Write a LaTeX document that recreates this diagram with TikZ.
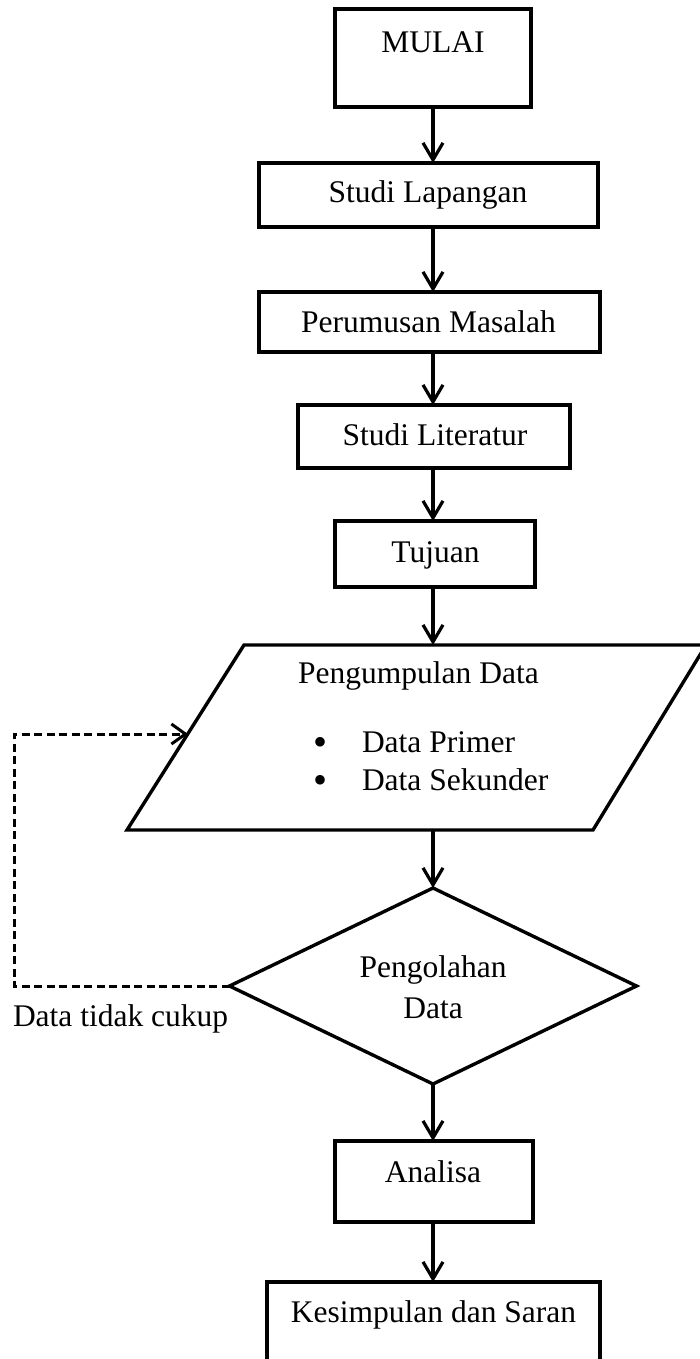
\documentclass[tikz,border=0pt]{standalone}
\usepackage{fontspec}
\setmainfont{Liberation Serif}
\usetikzlibrary{arrows.meta,shapes.geometric}
\begin{document}
\begin{tikzpicture}[x=1pt,y=-1pt,
  every node/.style={font=\fontsize{31.5}{38}\selectfont, inner sep=0pt, outer sep=0pt},
  box/.style={draw, rectangle, line width=3.4pt},
  txt/.style={anchor=base},
  arr/.style={-{Straight Barb[length=17pt,width=20pt]}, line width=3.2pt},
  dasharr/.style={-{Straight Barb[length=14pt,width=20pt]}, line width=3pt, dash pattern=on 8pt off 4.5pt}]
\useasboundingbox (0,0) rectangle (699,1359);

% process boxes
\node[box, minimum width=196pt, minimum height=98pt] (mulai) at (433,58) {};
\node[box, minimum width=339pt, minimum height=64pt] (stlap) at (428.5,195) {};
\node[box, minimum width=341pt, minimum height=60pt] (perum) at (429.5,322) {};
\node[box, minimum width=272pt, minimum height=63pt] (stlit) at (434,436.5) {};
\node[box, minimum width=200pt, minimum height=66pt] (tujuan) at (435,554) {};
\node[box, minimum width=198pt, minimum height=81pt] (analisa) at (434,1181.5) {};
\node[box, minimum width=333pt, minimum height=98pt] (kesim) at (433.5,1331) {};

% box texts
\node[txt] (tmulai) at (433,53) {MULAI};
\node[txt] (tstlap) at (428,203) {Studi Lapangan};
\node[txt] (tperum) at (428.5,332) {Perumusan Masalah};
\node[txt] (tstlit) at (435,445) {Studi Literatur};
\node[txt] (ttujuan) at (435.5,562) {Tujuan};
\node[txt] (tanalisa) at (433,1182) {Analisa};
\node[txt] (tkesim) at (433.5,1322) {Kesimpulan dan Saran};

% data input (parallelogram)
\draw[line width=3.4pt, line join=miter] (244,645) -- (706,645) -- (593,830) -- (127,830) -- cycle;
\coordinate (pdtop) at (433,645);
\coordinate (pdbot) at (433,830);
\coordinate (pdin) at (188,734);
\node[txt] (tpd) at (418.5,683) {Pengumpulan Data};
\node[txt, font=\fontsize{40}{40}\selectfont] (b1) at (320,755) {•};
\node[txt, font=\fontsize{40}{40}\selectfont] (b2) at (320,793) {•};
\node[anchor=base west] (tprim) at (362,752) {Data Primer};
\node[anchor=base west] (tsek) at (362,790) {Data Sekunder};

% decision
\node[diamond, draw, line width=3.4pt, minimum width=407pt, minimum height=196pt] (olah) at (433,986) {};
\node[txt] (tolah1) at (433,977) {Pengolahan};
\node[txt] (tolah2) at (433,1018) {Data};
\node[anchor=base west] (tloop) at (13,1026) {Data tidak cukup};

% connectors
\coordinate (ax) at (433,0);
\coordinate (loop) at (14,734);
\draw[arr] (mulai.south -| ax) -- (stlap.north -| ax);
\draw[arr] (stlap.south -| ax) -- (perum.north -| ax);
\draw[arr] (perum.south -| ax) -- (stlit.north -| ax);
\draw[arr] (stlit.south -| ax) -- (tujuan.north -| ax);
\draw[arr] (tujuan.south -| ax) -- (pdtop);
\draw[arr] (pdbot) -- (olah.north);
\draw[arr] (olah.south) -- (analisa.north -| ax);
\draw[arr] (analisa.south -| ax) -- (kesim.north -| ax);
\draw[dasharr] (olah.west) -| (loop) -- (pdin);
\end{tikzpicture}
\end{document}
